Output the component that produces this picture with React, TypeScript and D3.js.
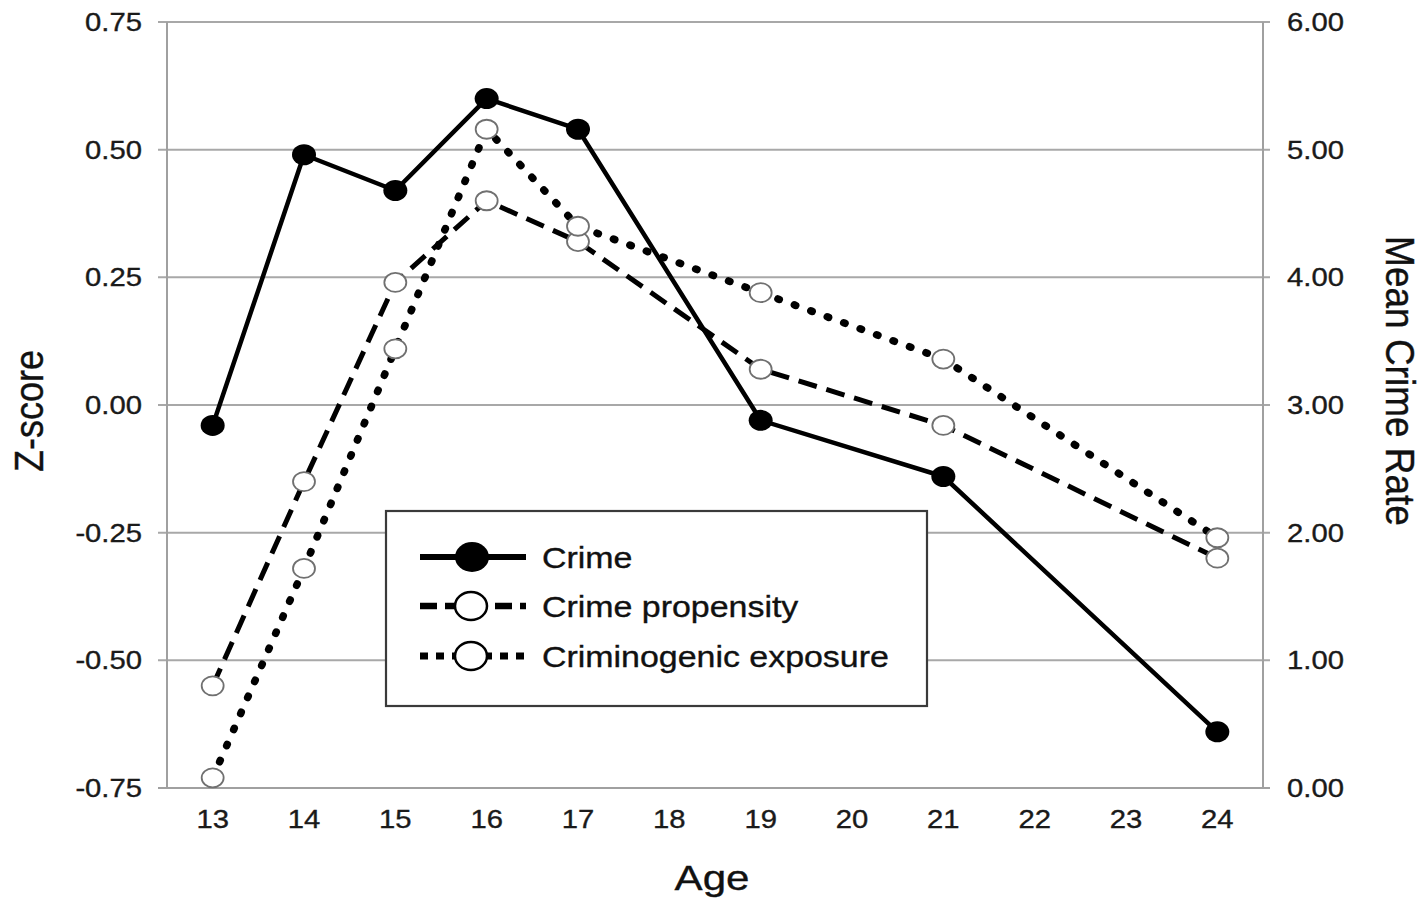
import React from "react";
import * as d3 from "d3";

const ages = ["13", "14", "15", "16", "17", "18", "19", "20", "21", "22", "23", "24"];
const dataAges = ["13", "14", "15", "16", "17", "19", "21", "24"];
const crime = [-0.04, 0.49, 0.42, 0.6, 0.54, -0.03, -0.14, -0.64];
const propensity = [-0.55, -0.15, 0.24, 0.4, 0.32, 0.07, -0.04, -0.3];
const exposure = [-0.73, -0.32, 0.11, 0.54, 0.35, 0.22, 0.09, -0.26];
const zTicks = [-0.75, -0.5, -0.25, 0, 0.25, 0.5, 0.75];
const rateTicks = [0, 1, 2, 3, 4, 5, 6];
const legendLabels = ["Crime", "Crime propensity", "Criminogenic exposure"];

const W = 1427;
const H = 899;
const L = 167;
const R = 1263;
const T = 22;
const B = 788;
const SX = 1.17;
const FONT = "'Liberation Sans', Arial, Helvetica, sans-serif";

export default function App() {
  const x = d3.scaleBand<string>().domain(ages).range([L, R]);
  const cx = (a: string) => (x(a) as number) + x.bandwidth() / 2;
  const yZ = d3.scaleLinear().domain([-0.75, 0.75]).range([B, T]);
  const yR = d3.scaleLinear().domain([0, 6]).range([B, T]);

  const line = d3
    .line<number>()
    .x((_, i) => cx(dataAges[i]))
    .y((d) => yZ(d));

  const series = [
    { vals: crime, dash: "none", width: 4.5, cap: "butt", filled: true, ldash: "none", lwidth: 6, lcap: "butt" },
    { vals: propensity, dash: "19,10", width: 5, cap: "butt", filled: false, ldash: "17,8", lwidth: 6.5, lcap: "butt" },
    { vals: exposure, dash: "1.5,16", width: 7.5, cap: "round", filled: false, ldash: "8,8", lwidth: 7, lcap: "butt" },
  ];

  const htext = (
    key: string,
    tx: number,
    ty: number,
    s: string,
    size: number,
    anchor: string,
    fill = "#1a1a1a"
  ) => (
    <text
      key={key}
      transform={`translate(${tx},${ty}) scale(${SX},1)`}
      textAnchor={anchor as any}
      fontSize={size}
      fontFamily={FONT}
      fill={fill}
      stroke={fill}
      strokeWidth={0.35}
    >
      {s}
    </text>
  );

  const legendX = 386;
  const legendY = 511;
  const legendW = 541;
  const legendH = 195;
  const rowY = [557, 606, 656];

  return (
    <div style={{ position: "fixed", left: 0, top: 0 }}>
      <svg width={W} height={H} style={{ display: "block", background: "#fff" }}>
        <rect x={0} y={0} width={W} height={H} fill="#fff" />
        {/* gridlines */}
        {zTicks.map((t) => (
          <line
            key={"g" + t}
            x1={158}
            x2={1270}
            y1={yZ(t)}
            y2={yZ(t)}
            stroke="#a8a8a8"
            strokeWidth={2}
          />
        ))}
        {/* axes */}
        <line x1={L} x2={L} y1={T} y2={B} stroke="#a0a0a0" strokeWidth={2} />
        <line x1={R} x2={R} y1={T} y2={B} stroke="#a0a0a0" strokeWidth={2} />
        <line x1={158} x2={1270} y1={B} y2={B} stroke="#a0a0a0" strokeWidth={2} />

        {/* left tick labels */}
        {zTicks.map((t) =>
          htext("lz" + t, 142, yZ(t) + 9, t.toFixed(2), 25, "end")
        )}
        {/* right tick labels */}
        {rateTicks.map((t) =>
          htext("rr" + t, 1287, yR(t) + 9, t.toFixed(2), 25, "start")
        )}
        {/* x tick labels */}
        {ages.map((a) => htext("xa" + a, cx(a), 828, a, 25, "middle"))}

        {/* axis titles */}
        {htext("age", 712, 890, "Age", 36, "middle", "#111")}
        <text
          transform={`translate(43,411) scale(1.12,1) rotate(-90)`}
          textAnchor="middle"
          fontSize={36}
          fontFamily={FONT}
          fill="#111"
          stroke="#111"
          strokeWidth={0.35}
        >
          Z-score
        </text>
        <text
          transform={`translate(1386,381) scale(1.12,1) rotate(90)`}
          textAnchor="middle"
          fontSize={37}
          fontFamily={FONT}
          fill="#111"
          stroke="#111"
          strokeWidth={0.35}
        >
          Mean Crime Rate
        </text>

        {/* series lines */}
        {series.map((s, i) => (
          <path
            key={"l" + i}
            d={line(s.vals) || ""}
            fill="none"
            stroke="#000"
            strokeWidth={s.width}
            strokeDasharray={s.dash}
            strokeLinecap={s.cap as any}
            strokeLinejoin="round"
          />
        ))}
        {/* markers */}
        {series.map((s, i) =>
          s.vals.map((v, j) =>
            s.filled ? (
              <ellipse
                key={"m" + i + "-" + j}
                cx={cx(dataAges[j])}
                cy={yZ(v)}
                rx={12}
                ry={10.5}
                fill="#000"
              />
            ) : (
              <ellipse
                key={"m" + i + "-" + j}
                cx={cx(dataAges[j])}
                cy={yZ(v)}
                rx={11}
                ry={9.5}
                fill="#fff"
                stroke="#707070"
                strokeWidth={1.8}
              />
            )
          )
        )}

        {/* legend */}
        <rect
          x={legendX}
          y={legendY}
          width={legendW}
          height={legendH}
          fill="#fff"
          stroke="#3a3a3a"
          strokeWidth={2.2}
        />
        {series.map((s, i) => (
          <g key={"lg" + i}>
            <line
              x1={420}
              x2={526}
              y1={rowY[i]}
              y2={rowY[i]}
              stroke="#000"
              strokeWidth={s.lwidth}
              strokeDasharray={s.ldash}
              strokeLinecap={s.lcap as any}
            />
            {s.filled ? (
              <ellipse cx={472} cy={rowY[i]} rx={17} ry={15} fill="#000" />
            ) : (
              <ellipse
                cx={471}
                cy={rowY[i]}
                rx={16}
                ry={14}
                fill="#fff"
                stroke="#000"
                strokeWidth={2.5}
              />
            )}
            {htext("lt" + i, 542, rowY[i] + 11, legendLabels[i], 29, "start", "#111")}
          </g>
        ))}
      </svg>
    </div>
  );
}
